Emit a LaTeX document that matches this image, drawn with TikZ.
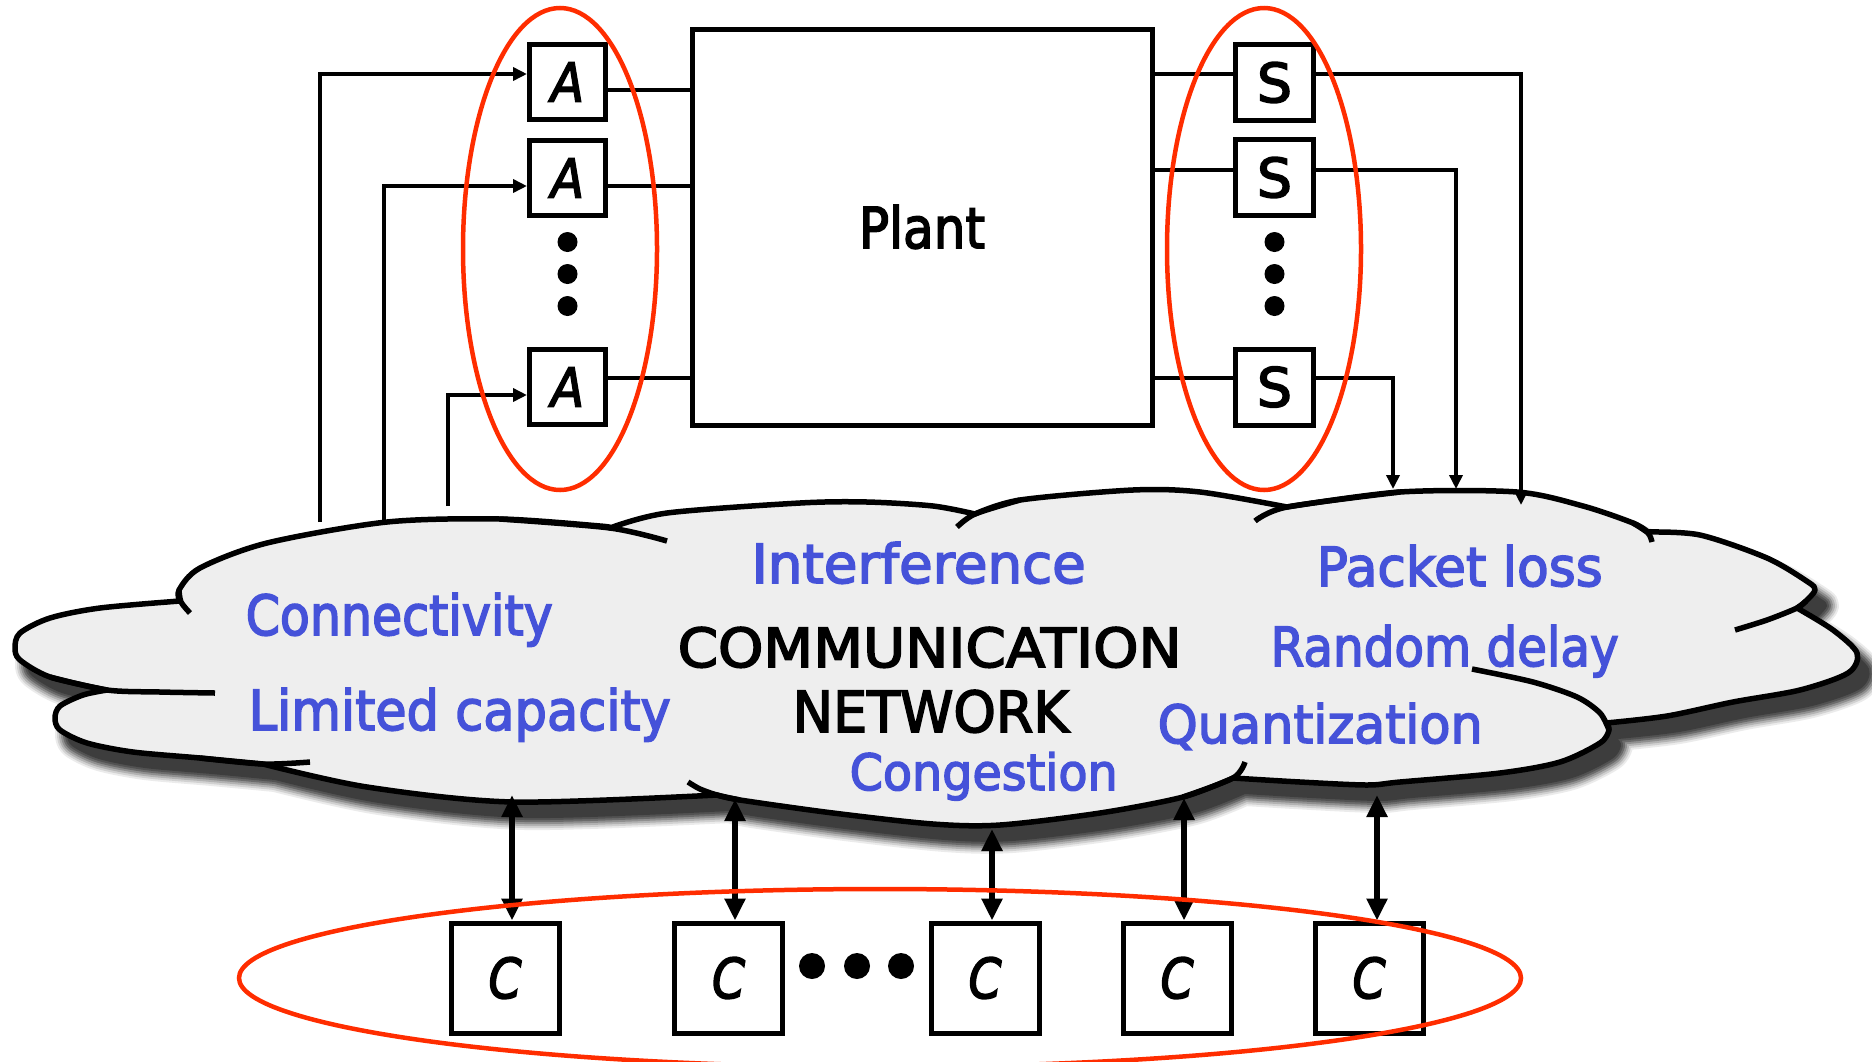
\documentclass[tikz,border=0pt]{standalone}
\usepackage{fontspec}
\setmainfont{DejaVu Sans}
\newfontfamily\hand{DejaVu Sans}[FakeBold=3]
\usetikzlibrary{arrows.meta}
\definecolor{netblue}{RGB}{69,82,217}
\definecolor{ringred}{RGB}{255,45,0}
\definecolor{cloudgray}{RGB}{238,238,238}
\newlength\px
\setlength\px{0.1mm}
% set a word into a box of given width and height (in px units)
\newcommand\fitbox[3]{\resizebox{#1\px}{#2\px}{\hand #3}}

% outline of the network cloud, one smooth arc per lobe
\def\cloudpath{
  plot[smooth] coordinates {(180,601) (179,590) (200,568) (267,543) (387,522) (500,519) (600,526) (610,528)}
  -- plot[smooth] coordinates {(610,528) (667,513) (800,503) (867,502) (933,506) (975,514)}
  -- plot[smooth] coordinates {(975,514) (1020,500) (1133,490) (1200,492) (1287,507)}
  -- plot[smooth] coordinates {(1287,507) (1400,492) (1517,492) (1583,506) (1633,523) (1648,532)}
  -- plot[smooth] coordinates {(1648,532) (1700,535) (1767,558) (1808,582) (1815,590) (1806,601) (1797,608)}
  -- plot[smooth] coordinates {(1797,608) (1833,630) (1857,653) (1848,673) (1800,690) (1733,702) (1667,716) (1606,723)}
  -- plot[smooth] coordinates {(1606,723) (1609,730) (1600,743) (1560,762) (1500,773) (1400,782) (1367,785) (1300,782) (1233,778)}
  -- plot[smooth] coordinates {(1233,778) (1183,797) (1100,813) (1000,825) (933,824) (833,813) (740,800) (717,795)}
  -- plot[smooth] coordinates {(717,795) (513,802) (367,787) (263,764)}
  -- plot[smooth] coordinates {(263,764) (200,758) (133,752) (87,743) (60,730) (55,718) (60,706) (83,695) (107,690)}
  -- plot[smooth] coordinates {(107,690) (50,677) (20,660) (15,648) (20,633) (50,618) (100,608) (180,601)}
  -- cycle}

\begin{document}
\begin{tikzpicture}[x=0.1mm, y=-0.1mm,
  box/.style={draw, line width=0.5mm, inner sep=0pt},
  abox/.style={box, minimum width=7.6mm, minimum height=7.5mm},
  sbox/.style={box, minimum width=7.8mm, minimum height=7.6mm},
  cbox/.style={box, minimum width=10.8mm, minimum height=11.0mm},
  conn/.style={line width=0.35mm},
  feed/.style={conn, -{Triangle[length=1.4mm,width=1.3mm]}},
  link/.style={line width=0.6mm, {Triangle[length=2.2mm,width=2mm]}-{Triangle[length=2.2mm,width=2mm]}},
  ring/.style={draw=ringred, line width=0.45mm},
  cloudline/.style={line width=0.55mm, line cap=butt},
  shade/.style={line join=round, shift={(12,16)}},
  issue/.style={text=netblue, inner sep=0pt, anchor=base west},
  title/.style={inner sep=0pt, anchor=base west}
]
\useasboundingbox (0,0) rectangle (1872,1061);

% ---- the network cloud: soft drop shadow, then body ----
\filldraw[shade, line width=2.4mm, draw=black!8,  fill=black!8]  \cloudpath;
\filldraw[shade, line width=2.0mm, draw=black!18, fill=black!18] \cloudpath;
\filldraw[shade, line width=1.6mm, draw=black!30, fill=black!30] \cloudpath;
\filldraw[shade, line width=1.2mm, draw=black!44, fill=black!44] \cloudpath;
\filldraw[shade, line width=0.8mm, draw=black!58, fill=black!58] \cloudpath;
\filldraw[shade, line width=0.4mm, draw=black!68, fill=black!68] \cloudpath;
\fill[shade, black!76] \cloudpath;
\filldraw[fill=cloudgray, draw=black, line width=0.55mm, line join=round] \cloudpath;

% inner arc ends of the cloud lobes
\draw[cloudline] plot[smooth] coordinates {(179,590) (181,602) (190,613)};
\draw[cloudline] plot[smooth] coordinates {(50,677) (107,690) (160,692) (215,693)};
\draw[cloudline] plot[smooth] coordinates {(200,758) (263,764) (310,762)};
\draw[cloudline] plot[smooth] coordinates {(500,519) (610,528) (667,541)};
\draw[cloudline] plot[smooth] coordinates {(740,800) (717,795) (700,789) (688,782)};
\draw[cloudline] plot[smooth] coordinates {(1020,500) (975,514) (957,527)};
\draw[cloudline] plot[smooth] coordinates {(1400,492) (1287,507) (1255,521)};
\draw[cloudline] plot[smooth] coordinates {(1633,523) (1648,533) (1652,542)};
\draw[cloudline] plot[smooth] coordinates {(1806,601) (1797,608) (1767,620) (1735,630)};
\draw[cloudline] plot[smooth] coordinates {(1472,669) (1533,682) (1577,697) (1600,713) (1609,730)};
\draw[cloudline] plot[smooth] coordinates {(1183,797) (1233,778) (1245,762)};

% ---- labels inside the cloud ----
\node[issue] (tconn) at (245,635) {\fitbox{307}{42}{Connectivity}};
\node[issue] (tlim)  at (248,730) {\fitbox{422}{42}{Limited capacity}};
\node[issue] (tint)  at (751,583) {\fitbox{334}{41}{Interference}};
\node[title] (tcomm) at (677,667) {\fitbox{504}{40}{COMMUNICATION}};
\node[title] (tnet)  at (792,732) {\fitbox{276}{42}{NETWORK}};
\node[issue] (tcong) at (849,790) {\fitbox{268}{38}{Congestion}};
\node[issue] (tpkt)  at (1316,586) {\fitbox{286}{41}{Packet loss}};
\node[issue] (trnd)  at (1270,666) {\fitbox{348}{41}{Random delay}};
\node[issue] (tqnt)  at (1157,743) {\fitbox{325}{40}{Quantization}};

% ---- plant, actuators, sensors ----
\node[box, minimum width=46mm, minimum height=39.6mm] (plant) at (922,227) {\fitbox{126}{43}{Plant}};

\node[abox] (a1) at (567.5,82)  {\fitbox{33}{39}{\itshape A}};
\node[abox] (a2) at (567.5,178) {\fitbox{33}{39}{\itshape A}};
\node[abox] (a3) at (567.5,387) {\fitbox{33}{39}{\itshape A}};

\node[sbox] (s1) at (1274.5,82.5)  {\fitbox{35}{40}{S}};
\node[sbox] (s2) at (1274.5,177.5) {\fitbox{35}{40}{S}};
\node[sbox] (s3) at (1274.5,387)   {\fitbox{35}{40}{S}};

\foreach \yy in {242,274,306} {
  \fill (567.5,\yy) circle[radius=10];
  \fill (1274.5,\yy) circle[radius=10];
}

% network -> actuators
\coordinate (in1) at (320,522);
\coordinate (in2) at (384,522);
\coordinate (in3) at (448,506);
\coordinate (a1in) at ([yshift=0.8mm]a1.west);
\coordinate (a2in) at ([yshift=-0.8mm]a2.west);
\coordinate (a3in) at ([yshift=-0.8mm]a3.west);
\draw[feed] (in1) |- (a1in);
\draw[feed] (in2) |- (a2in);
\draw[feed] (in3) |- (a3in);

% actuators -> plant
\coordinate (a1out) at ([yshift=-0.8mm]a1.east);
\coordinate (a2out) at ([yshift=-0.8mm]a2.east);
\coordinate (a3out) at ([yshift=0.9mm]a3.east);
\draw[conn] (a1out) -- (a1out -| plant.west);
\draw[conn] (a2out) -- (a2out -| plant.west);
\draw[conn] (a3out) -- (a3out -| plant.west);

% plant -> sensors
\coordinate (s1in) at ([yshift=0.85mm]s1.west);
\coordinate (s2in) at ([yshift=0.75mm]s2.west);
\coordinate (s3in) at ([yshift=0.9mm]s3.west);
\draw[conn] (s1in -| plant.east) -- (s1in);
\draw[conn] (s2in -| plant.east) -- (s2in);
\draw[conn] (s3in -| plant.east) -- (s3in);

% sensors -> network
\coordinate (s1out) at ([yshift=0.85mm]s1.east);
\coordinate (s2out) at ([yshift=0.75mm]s2.east);
\coordinate (s3out) at ([yshift=0.9mm]s3.east);
\coordinate (out1) at (1521,505);
\coordinate (out2) at (1456,489);
\coordinate (out3) at (1393,489);
\draw[feed] (s1out) -| (out1);
\draw[feed] (s2out) -| (out2);
\draw[feed] (s3out) -| (out3);

% ---- controllers ----
\node[cbox] (c1) at (505,978)   {\fitbox{33}{41}{\itshape C}};
\node[cbox] (c2) at (728.5,978) {\fitbox{33}{41}{\itshape C}};
\node[cbox] (c3) at (985,978)   {\fitbox{33}{41}{\itshape C}};
\node[cbox] (c4) at (1177,978)  {\fitbox{33}{41}{\itshape C}};
\node[cbox] (c5) at (1369,978)  {\fitbox{33}{41}{\itshape C}};

\foreach \xx in {812,857,901} \fill (\xx,966) circle[radius=13];

\coordinate (n1) at (512,795);
\coordinate (n2) at (735,799);
\coordinate (n3) at (992,829);
\coordinate (n4) at (1184,798);
\coordinate (n5) at (1377,795);
\draw[link] (n1) -- (n1 |- c1.north);
\draw[link] (n2) -- (n2 |- c2.north);
\draw[link] (n3) -- (n3 |- c3.north);
\draw[link] (n4) -- (n4 |- c4.north);
\draw[link] (n5) -- (n5 |- c5.north);

% ---- groupings ----
\draw[ring] (560,249) ellipse[x radius=97, y radius=241];
\draw[ring] (1264,249) ellipse[x radius=97, y radius=241];
\draw[ring] (880,978) ellipse[x radius=641, y radius=89];
\end{tikzpicture}
\end{document}
